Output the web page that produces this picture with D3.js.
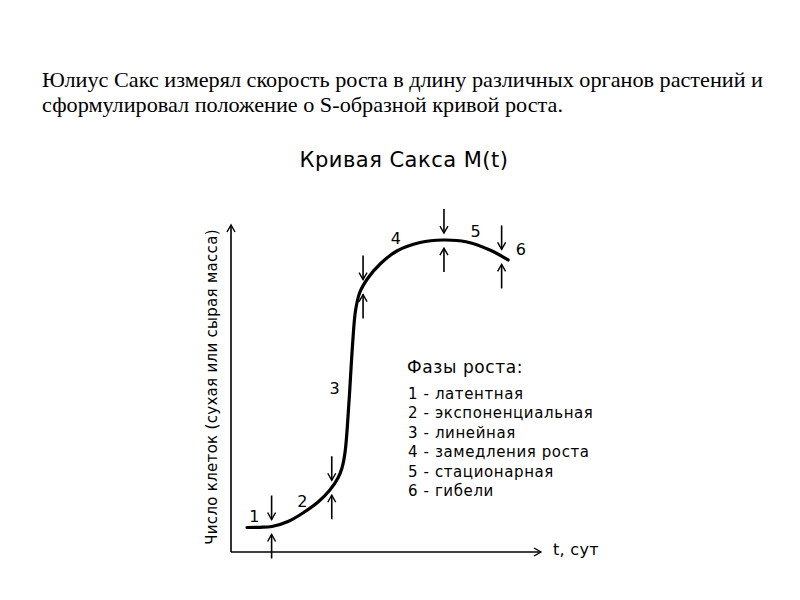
<!DOCTYPE html>
<html><head><meta charset="utf-8">
<script src="https://cdn.jsdelivr.net/npm/d3@7"></script>
<style>body{margin:0;background:#fff}svg{display:block}</style>
</head><body><svg id="c" width="800" height="600"></svg>
<script>
const introLines = [
  "Юлиус Сакс измерял скорость роста в длину различных органов растений и",
  "сформулировал положение о S-образной кривой роста."
];
const chartTitle = "Кривая Сакса M(t)";
const yLabel = "Число клеток (сухая или сырая масса)";
const xLabel = "t, сут";
// Growth curve M(t) (relative units)
const curveT = [5.16, 9.35, 13.2, 18.4, 23.2, 28.1, 31.9, 34.5, 35.8, 36.8, 38.1, 39.2, 40.2, 41.6, 44.2, 48.1, 53.5, 61.0, 68.4, 75.8, 83.5, 89.4];
const curveM = [7.49, 7.55, 7.80, 9.33, 11.93, 15.29, 18.96, 22.63, 25.69, 30.58, 46.48, 63.30, 74.01, 79.51, 83.79, 88.07, 92.05, 94.65, 95.41, 94.89, 92.35, 89.30];
// phase boundaries (t) where arrow pairs are drawn
const boundaries = [13.1, 32.5, 42.6, 68.7, 87.3];
// phase number labels
const phaseNums = ["1", "2", "3", "4", "5", "6"];
const phaseLabelT = [7.5, 23.0, 33.4, 53.2, 78.9, 93.5];
const phaseLabelM = [11.0, 15.3, 50.0, 96.0, 97.9, 92.6];
const legendTitle = "Фазы роста:";
const legendItems = ["1 - латентная", "2 - экспоненциальная", "3 - линейная", "4 - замедления роста", "5 - стационарная", "6 - гибели"];

const svg = d3.select("#c");
const defs = svg.append("defs");
defs.append("marker").attr("id","ah").attr("viewBox","-10 -6 12 12").attr("refX",0).attr("refY",0)
  .attr("markerWidth",12).attr("markerHeight",12).attr("markerUnits","userSpaceOnUse").attr("orient","auto")
  .append("path").attr("d","M-7,-4 L0,0 L-7,4").attr("fill","none").attr("stroke","#000").attr("stroke-width",1.4);

// Intro text
const serif = "'Liberation Serif','Times New Roman',serif";
svg.append("text").attr("x",42).attr("y",87).attr("font-family",serif).attr("font-size",22)
  .attr("textLength",721).attr("lengthAdjust","spacingAndGlyphs").text(introLines[0]);
svg.append("text").attr("x",42).attr("y",112).attr("font-family",serif).attr("font-size",22)
  .attr("textLength",521).attr("lengthAdjust","spacingAndGlyphs").text(introLines[1]);

const dv = "'DejaVu Sans',sans-serif";
svg.append("text").attr("x",404).attr("y",167).attr("text-anchor","middle")
  .attr("font-family",dv).attr("font-size",21).attr("letter-spacing",0.5).text(chartTitle);

const x = d3.scaleLinear().domain([0,100]).range([231,541]);
const y = d3.scaleLinear().domain([0,100]).range([552,225]);

// axes
const gx = svg.append("g").attr("transform",`translate(0,${y(0)})`).call(d3.axisBottom(x).ticks(0).tickSizeOuter(0));
gx.select(".domain").attr("stroke-width",1.6).attr("marker-end","url(#ah)").attr("d",`M${x(0)},0H${x(100)}`);
const gy = svg.append("g").attr("transform",`translate(${x(0)},0)`).call(d3.axisLeft(y).ticks(0).tickSizeOuter(0));
gy.select(".domain").attr("stroke-width",1.6).attr("marker-end","url(#ah)").attr("d",`M0,${y(0)}V${y(100)}`);

svg.append("text").attr("transform",`translate(217,${(231+543)/2}) rotate(-90)`).attr("text-anchor","middle")
  .attr("font-family",dv).attr("font-size",15).attr("letter-spacing",0.3).text(yLabel);
svg.append("text").attr("x",553).attr("y",555).attr("font-family",dv).attr("font-size",16).attr("letter-spacing",0.3).text(xLabel);

// curve
const pts = curveT.map((t,i)=>[t,curveM[i]]);
const line = d3.line().x(d=>x(d[0])).y(d=>y(d[1])).curve(d3.curveCatmullRom.alpha(0.5));
svg.append("path").attr("d",line(pts)).attr("fill","none").attr("stroke","#000").attr("stroke-width",3.2)
  .attr("stroke-linecap","round");

// arrow pairs at boundaries
function curveAt(t){
  for(let i=0;i<curveT.length-1;i++){
    if(t>=curveT[i]&&t<=curveT[i+1]){const f=(t-curveT[i])/(curveT[i+1]-curveT[i]);return curveM[i]+f*(curveM[i+1]-curveM[i]);}
  }
  return curveM[curveM.length-1];
}
boundaries.forEach(t=>{
  const px=x(t), py=y(curveAt(t));
  svg.append("line").attr("x1",px).attr("x2",px).attr("y1",py-31).attr("y2",py-7)
    .attr("stroke","#000").attr("stroke-width",1.6).attr("marker-end","url(#ah)");
  svg.append("line").attr("x1",px).attr("x2",px).attr("y1",py+32).attr("y2",py+8)
    .attr("stroke","#000").attr("stroke-width",1.6).attr("marker-end","url(#ah)");
});

phaseNums.forEach((n,i)=>{
  svg.append("text").attr("x",x(phaseLabelT[i])).attr("y",y(phaseLabelM[i])).attr("text-anchor","middle")
    .attr("dominant-baseline","central").attr("font-family",dv).attr("font-size",16).text(n);
});

// legend
svg.append("text").attr("x",407).attr("y",373).attr("font-family",dv).attr("font-size",17).attr("letter-spacing",0.6).text(legendTitle);
legendItems.forEach((s,i)=>{
  svg.append("text").attr("x",408).attr("y",399+i*19.4).attr("font-family",dv).attr("font-size",15).attr("letter-spacing",0.6).text(s);
});
</script></body></html>
